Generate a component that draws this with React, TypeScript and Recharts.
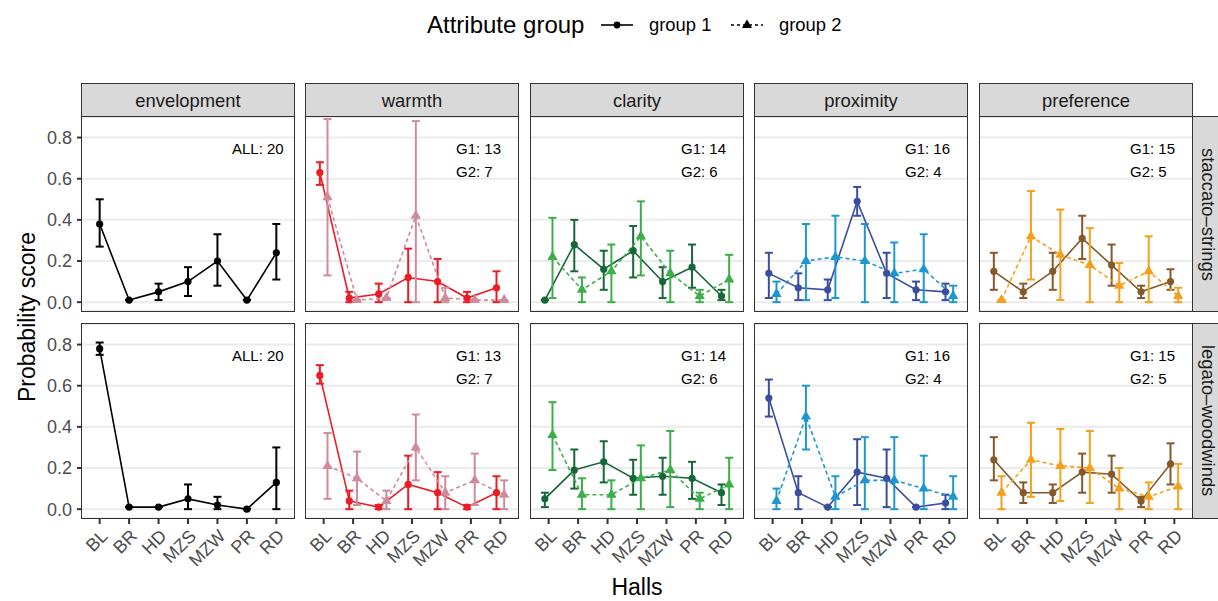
import { CartesianGrid, ErrorBar, Line, LineChart, XAxis, YAxis } from "recharts";

type Stat = [number, number, number]; // mean, lower, upper

const halls = ["BL", "BR", "HD", "MZS", "MZW", "PR", "RD"];
const attributes = ["envelopment", "warmth", "clarity", "proximity", "preference"];
const programs = ["staccato–strings", "legato–woodwinds"];
const groupNames = ["group 1", "group 2"];
const yTicks = [0, 0.2, 0.4, 0.6, 0.8];
const xTicks = [1, 2, 3, 4, 5, 6, 7];
const countLabels = [["ALL: 20"], ["G1: 13", "G2: 7"], ["G1: 14", "G2: 6"], ["G1: 16", "G2: 4"], ["G1: 15", "G2: 5"]];

// group 1 / group 2 colours per attribute
const colors1 = ["#000000", "#ED1C24", "#17673A", "#3A4EA0", "#87592A"];
const colors2 = ["#000000", "#CE8C9A", "#3BAF4A", "#1C98CF", "#F5A01C"];

// staccato-strings
const stacEnvelopment: Stat[] = [[0.38, 0.27, 0.5], [0.01, 0.01, 0.01], [0.05, 0.01, 0.09], [0.1, 0.03, 0.17], [0.2, 0.08, 0.33], [0.01, 0.01, 0.01], [0.24, 0.11, 0.38]];
const stacWarmth1: Stat[] = [[0.63, 0.57, 0.68], [0.02, 0, 0.05], [0.04, 0, 0.09], [0.12, 0, 0.26], [0.1, 0, 0.21], [0.02, 0, 0.05], [0.07, 0, 0.15]];
const stacWarmth2: Stat[] = [[0.51, 0.13, 0.89], [0.01, 0.01, 0.01], [0.02, 0.02, 0.02], [0.42, 0, 0.88], [0.02, 0, 0.07], [0.01, 0.01, 0.01], [0.01, 0.01, 0.01]];
const stacClarity1: Stat[] = [[0.01, 0.01, 0.01], [0.28, 0.15, 0.4], [0.16, 0.06, 0.25], [0.25, 0.12, 0.37], [0.1, 0.02, 0.17], [0.17, 0.07, 0.28], [0.03, 0.01, 0.06]];
const stacClarity2: Stat[] = [[0.22, 0.02, 0.41], [0.06, 0, 0.12], [0.15, 0, 0.28], [0.32, 0.13, 0.49], [0.14, 0, 0.25], [0.03, 0, 0.06], [0.11, 0, 0.23]];
const stacProximity1: Stat[] = [[0.14, 0.02, 0.24], [0.07, 0.01, 0.14], [0.06, 0.01, 0.11], [0.49, 0.42, 0.56], [0.14, 0.02, 0.24], [0.06, 0.01, 0.1], [0.05, 0.01, 0.09]];
const stacProximity2: Stat[] = [[0.04, 0, 0.1], [0.2, 0.01, 0.38], [0.22, 0.02, 0.42], [0.2, 0, 0.38], [0.14, 0, 0.29], [0.16, 0, 0.33], [0.03, 0, 0.08]];
const stacPreference1: Stat[] = [[0.15, 0.06, 0.24], [0.05, 0.02, 0.09], [0.15, 0.06, 0.24], [0.31, 0.21, 0.42], [0.18, 0.08, 0.28], [0.05, 0.02, 0.08], [0.1, 0.06, 0.16]];
const stacPreference2: Stat[] = [[0.01, 0.01, 0.01], [0.32, 0.11, 0.54], [0.23, 0.01, 0.45], [0.18, 0, 0.36], [0.08, 0, 0.19], [0.15, 0, 0.32], [0.03, 0, 0.07]];

// legato-woodwinds
const legEnvelopment: Stat[] = [[0.78, 0.75, 0.81], [0.01, 0.01, 0.01], [0.01, 0.01, 0.01], [0.05, 0, 0.12], [0.02, 0, 0.06], [0, 0, 0], [0.13, 0, 0.3]];
const legWarmth1: Stat[] = [[0.65, 0.61, 0.7], [0.04, 0, 0.09], [0.01, 0, 0.02], [0.12, 0, 0.26], [0.08, 0, 0.18], [0.01, 0, 0.02], [0.08, 0, 0.16]];
const legWarmth2: Stat[] = [[0.21, 0.05, 0.37], [0.15, 0.02, 0.28], [0.04, 0, 0.09], [0.3, 0.14, 0.46], [0.08, 0, 0.16], [0.14, 0.02, 0.27], [0.07, 0, 0.14]];
const legClarity1: Stat[] = [[0.05, 0.01, 0.08], [0.19, 0.1, 0.29], [0.23, 0.13, 0.33], [0.15, 0.07, 0.24], [0.16, 0.07, 0.25], [0.15, 0.05, 0.23], [0.08, 0.02, 0.12]];
const legClarity2: Stat[] = [[0.36, 0.19, 0.52], [0.07, 0, 0.15], [0.07, 0, 0.14], [0.15, 0, 0.31], [0.19, 0.01, 0.38], [0.05, 0, 0.08], [0.12, 0, 0.25]];
const legProximity1: Stat[] = [[0.54, 0.45, 0.63], [0.08, 0, 0.16], [0.01, 0.01, 0.01], [0.18, 0.02, 0.34], [0.15, 0.01, 0.29], [0.01, 0.01, 0.01], [0.03, 0, 0.07]];
const legProximity2: Stat[] = [[0.04, 0, 0.1], [0.45, 0.29, 0.6], [0.06, 0, 0.16], [0.14, 0, 0.35], [0.14, 0, 0.35], [0.1, 0, 0.26], [0.06, 0, 0.16]];
const legPreference1: Stat[] = [[0.24, 0.14, 0.35], [0.08, 0.03, 0.13], [0.08, 0.03, 0.12], [0.18, 0.08, 0.27], [0.17, 0.08, 0.26], [0.04, 0.01, 0.06], [0.22, 0.12, 0.32]];
const legPreference2: Stat[] = [[0.08, 0, 0.16], [0.24, 0.06, 0.42], [0.21, 0.04, 0.39], [0.2, 0.03, 0.38], [0.1, 0, 0.2], [0.06, 0, 0.13], [0.11, 0, 0.22]];

const group1Rows: Stat[][][] = [
  [stacEnvelopment, stacWarmth1, stacClarity1, stacProximity1, stacPreference1],
  [legEnvelopment, legWarmth1, legClarity1, legProximity1, legPreference1],
];
const group2Rows: (Stat[] | null)[][] = [
  [null, stacWarmth2, stacClarity2, stacProximity2, stacPreference2],
  [null, legWarmth2, legClarity2, legProximity2, legPreference2],
];

const FONT = '"Liberation Sans", Arial, Helvetica, sans-serif';
const PANEL_W = 212;
const PANEL_H = 194;
const COL_X = [82, 306, 531, 755, 980];
const ROW_Y = [117, 324];
const Y_AXIS_W = 50;
const X_AXIS_H = 70;
const DODGE = 0.13;

const toData = (stats: Stat[], shift: number) =>
  stats.map(([m, lo, hi], i) => ({ x: i + 1 + shift, y: m, err: [m - lo, hi - m] }));

const circleDot = (color: string) => (p: any) => (
  <circle key={`c${p.index}`} cx={p.cx} cy={p.cy} r={3.6} fill={color} stroke="none" />
);

const triangleDot = (color: string) => (p: any) => {
  const r = 6;
  const pts = `${p.cx},${p.cy - r} ${p.cx + r * 0.866},${p.cy + r / 2} ${p.cx - r * 0.866},${p.cy + r / 2}`;
  return <polygon key={`t${p.index}`} points={pts} fill={color} stroke="none" />;
};

const HallTick = (p: any) => {
  const { x, y, payload } = p;
  return (
    <text x={x} y={y} dy="0.72em" textAnchor="end" transform={`rotate(-45 ${x} ${y})`} fill="#4D4D4D" fontSize={18} fontFamily={FONT}>
      {halls[payload.value - 1]}
    </text>
  );
};

function Panel({ row, col }: { row: number; col: number }) {
  const g1 = group1Rows[row][col];
  const g2 = group2Rows[row][col];
  const left = col === 0 ? Y_AXIS_W : 0;
  const bottom = row === 1 ? X_AXIS_H : 0;
  return (
    <div style={{ position: "absolute", left: COL_X[col] - left, top: ROW_Y[row] }}>
      <LineChart width={PANEL_W + left} height={PANEL_H + bottom} margin={{ top: 0, right: 0, bottom: 0, left: 0 }}>
        <CartesianGrid vertical={false} stroke="#EBEBEB" strokeWidth={2} />
        <XAxis
          type="number"
          dataKey="x"
          domain={[0.4, 7.6]}
          ticks={xTicks}
          interval={0}
          hide={row === 0}
          height={bottom}
          axisLine={false}
          tickLine={{ stroke: "#333333", strokeWidth: 2 }}
          tickSize={6}
          tickMargin={4}
          tick={<HallTick />}
        />
        <YAxis
          type="number"
          domain={[-0.043, 0.9]}
          ticks={yTicks}
          interval={0}
          allowDataOverflow
          hide={col !== 0}
          width={left}
          axisLine={false}
          tickLine={{ stroke: "#333333", strokeWidth: 2 }}
          tickSize={5}
          tickMargin={5}
          tick={{ fill: "#4D4D4D", fontSize: 18, fontFamily: FONT }}
          tickFormatter={(v: number) => v.toFixed(1)}
        />
        <Line
          data={toData(g1, g2 ? -DODGE : 0)}
          dataKey="y"
          type="linear"
          stroke={colors1[col]}
          strokeWidth={1.6}
          dot={circleDot(colors1[col])}
          activeDot={false}
          isAnimationActive={false}
        >
          <ErrorBar dataKey="err" direction="y" width={4} stroke={colors1[col]} strokeWidth={2} isAnimationActive={false} />
        </Line>
        {g2 && (
          <Line
            data={toData(g2, DODGE)}
            dataKey="y"
            type="linear"
            stroke={colors2[col]}
            strokeWidth={1.6}
            strokeDasharray="4 3"
            dot={triangleDot(colors2[col])}
            activeDot={false}
            isAnimationActive={false}
          >
            <ErrorBar dataKey="err" direction="y" width={4} stroke={colors2[col]} strokeWidth={2} isAnimationActive={false} />
          </Line>
        )}
      </LineChart>
      <div
        style={{
          position: "absolute",
          left: left - 1,
          top: -1,
          width: PANEL_W + 2,
          height: PANEL_H + 2,
          boxSizing: "border-box",
          border: "1.6px solid #333333",
          pointerEvents: "none",
        }}
      />
      <div style={{ position: "absolute", left: left + 150, top: 20, fontSize: 15, lineHeight: "23px", color: "#000" }}>
        {countLabels[col].map((t) => (
          <div key={t}>{t}</div>
        ))}
      </div>
    </div>
  );
}

function LegendKey({ dashed }: { dashed: boolean }) {
  return (
    <svg width={34} height={20}>
      <line x1={1} y1={10} x2={33} y2={10} stroke="#000" strokeWidth={1.6} strokeDasharray={dashed ? "3 3" : undefined} />
      {dashed ? (
        <polygon points="17,4.5 22,13 12,13" fill="#000" />
      ) : (
        <circle cx={17} cy={10} r={3.4} fill="#000" />
      )}
    </svg>
  );
}

export default function App() {
  return (
    <div
      style={{
        position: "absolute",
        left: 0,
        top: 0,
        width: 1218,
        height: 601,
        overflow: "hidden",
        background: "#fff",
        fontFamily: FONT,
      }}
    >
      <style>{".recharts-surface { overflow: visible; }"}</style>
      {/* legend */}
      <div style={{ position: "absolute", left: 427, top: 10, fontSize: 24, lineHeight: "30px", color: "#000" }}>Attribute group</div>
      <div style={{ position: "absolute", left: 600, top: 15 }}>
        <LegendKey dashed={false} />
      </div>
      <div style={{ position: "absolute", left: 649, top: 13, fontSize: 18.4, lineHeight: "24px" }}>{groupNames[0]}</div>
      <div style={{ position: "absolute", left: 730, top: 15 }}>
        <LegendKey dashed />
      </div>
      <div style={{ position: "absolute", left: 779, top: 13, fontSize: 18.4, lineHeight: "24px" }}>{groupNames[1]}</div>

      {/* column strips */}
      {attributes.map((a, c) => (
        <div
          key={a}
          style={{
            position: "absolute",
            left: COL_X[c] - 1,
            top: 83,
            width: PANEL_W + 2,
            height: 35,
            boxSizing: "border-box",
            border: "1.6px solid #333333",
            background: "#D9D9D9",
            color: "#1A1A1A",
            fontSize: 18.4,
            display: "flex",
            alignItems: "center",
            justifyContent: "center",
          }}
        >
          {a}
        </div>
      ))}

      {/* row strips */}
      {programs.map((p, r) => (
        <div
          key={p}
          style={{
            position: "absolute",
            left: 1192,
            top: ROW_Y[r] - 1,
            width: 32,
            height: PANEL_H + 2,
            boxSizing: "border-box",
            border: "1.6px solid #333333",
            background: "#D9D9D9",
            color: "#1A1A1A",
            fontSize: 18.4,
            display: "flex",
            alignItems: "center",
            justifyContent: "center",
          }}
        >
          <span style={{ writingMode: "vertical-rl", lineHeight: "20px" }}>{p}</span>
        </div>
      ))}

      {[0, 1].map((r) => attributes.map((a, c) => <Panel key={`${r}-${a}`} row={r} col={c} />))}

      {/* axis titles */}
      <div
        style={{
          position: "absolute",
          left: 27,
          top: 317,
          transform: "translate(-50%, -50%) rotate(-90deg)",
          fontSize: 23,
          whiteSpace: "nowrap",
        }}
      >
        Probability score
      </div>
      <div
        style={{
          position: "absolute",
          left: 637,
          top: 587,
          transform: "translate(-50%, -50%)",
          fontSize: 23,
          whiteSpace: "nowrap",
        }}
      >
        Halls
      </div>
    </div>
  );
}
